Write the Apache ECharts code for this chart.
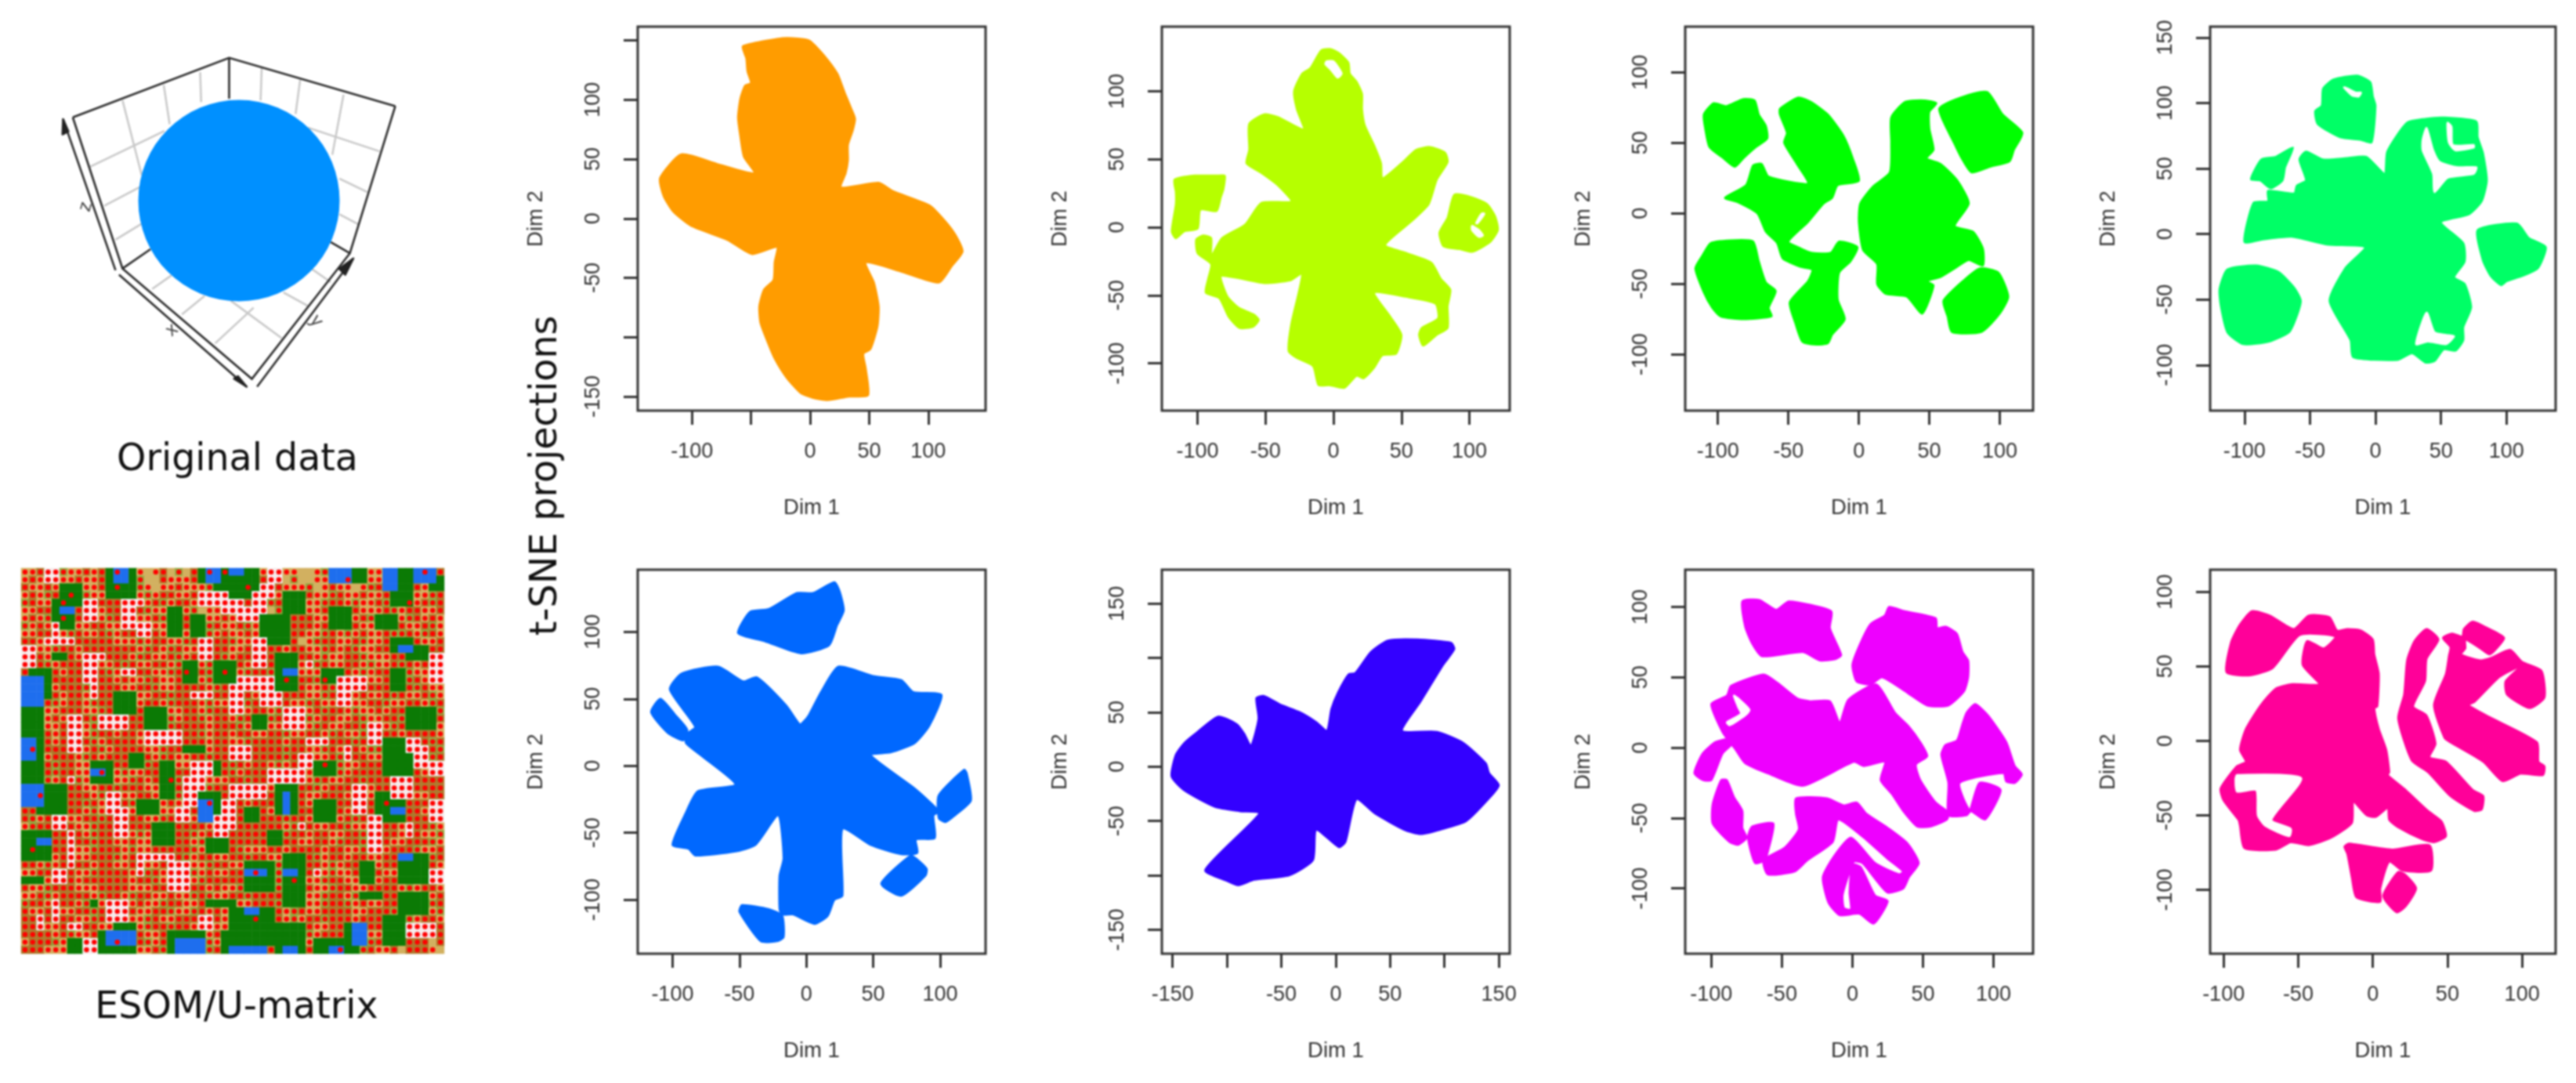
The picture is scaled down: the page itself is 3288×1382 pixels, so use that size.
<!DOCTYPE html>
<html>
<head>
<meta charset="utf-8">
<title>t-SNE projections</title>
<script src="https://cdn.jsdelivr.net/npm/echarts@6/dist/echarts.min.js"></script>
<style>
html, body { margin: 0; padding: 0; background: #fff; }
#main { width: 3288px; height: 1382px; filter: blur(1.3px); }
</style>
</head>
<body>
<div id="main"></div>
<script>
// t-SNE outlines in Dim 1 / Dim 2 units
const orangeShapes = [
  [[-57,145],[-41,149],[-20,152],[-1,150],[12,137],[23,122],[27,112],[30,104],[35,92],[38,84],[36,74],[32,62],[32,49],[30,38],[26,26],[58,30],[70,23],[101,11],[114,-2],[123,-14],[129,-28],[120,-40],[109,-54],[78,-45],[47,-37],[54,-54],[58,-74],[57,-91],[51,-110],[45,-114],[47,-126],[49,-149],[33,-150],[15,-153],[2,-151],[-8,-147],[-20,-134],[-30,-118],[-36,-104],[-42,-88],[-43,-74],[-39,-60],[-31,-52],[-30,-37],[-28,-24],[-49,-30],[-70,-18],[-101,-6],[-116,6],[-124,19],[-127,34],[-109,54],[-79,46],[-47,38],[-56,52],[-59,69],[-61,85],[-59,101],[-55,112],[-50,114],[-53,124],[-54,135]]
];
const limeShapes = [
  [[-9,130],[-2,131],[4,128],[11,121],[12,113],[17,107],[21,98],[21,87],[23,75],[30,60],[35,47],[36,36],[50,47],[61,57],[71,59],[82,55],[84,48],[76,35],[70,17],[58,5],[38,-13],[54,-19],[72,-26],[79,-38],[86,-46],[84,-58],[84,-74],[76,-79],[66,-87],[63,-79],[65,-74],[77,-67],[75,-56],[53,-51],[30,-48],[42,-66],[50,-79],[46,-93],[36,-94],[30,-103],[22,-111],[17,-109],[8,-118],[-3,-116],[-11,-116],[-15,-102],[-27,-96],[-33,-91],[-31,-71],[-23,-34],[-32,-39],[-51,-41],[-72,-37],[-83,-36],[-78,-51],[-70,-59],[-59,-64],[-55,-68],[-59,-73],[-69,-74],[-77,-66],[-84,-52],[-94,-48],[-92,-37],[-90,-27],[-100,-19],[-101,-9],[-96,-6],[-90,-8],[-90,-21],[-82,-8],[-65,2],[-53,18],[-31,19],[-41,31],[-53,40],[-64,47],[-62,57],[-62,76],[-51,83],[-41,81],[-22,72],[-27,87],[-29,100],[-23,113],[-17,117]],
  [[-117,35],[-102,38],[-86,38],[-80,38],[-81,28],[-83,22],[-86,12],[-98,13],[-100,-1],[-110,-3],[-116,-8],[-119,-3],[-116,17],[-116,26]],
  [[89,24],[102,22],[113,17],[119,8],[121,-2],[115,-11],[102,-18],[93,-16],[81,-14],[78,-4],[84,7]]
];
const limeHoles = [
  [[-5,122],[0,122],[6,113],[3,110],[-2,116],[-6,120]],
  [[102,1],[107,-2],[110,-6],[107,-7],[102,-2]],
  [[106,3],[111,10],[109,10],[105,3]]
];
const greenShapes = [
  [[-110,70],[-103,78],[-94,76],[-82,81],[-74,80],[-71,70],[-66,62],[-65,53],[-73,47],[-82,39],[-88,33],[-96,39],[-106,47],[-109,60]],
  [[-56,74],[-43,82],[-34,79],[-22,70],[-11,55],[-4,38],[0,23],[-15,20],[-19,11],[-25,7],[-36,-6],[-50,-20],[-41,-25],[-33,-28],[-20,-28],[-14,-20],[-1,-24],[-6,-34],[-14,-42],[-15,-61],[-10,-75],[-19,-86],[-22,-92],[-30,-93],[-40,-91],[-45,-78],[-49,-63],[-36,-48],[-33,-40],[-41,-38],[-54,-32],[-58,-21],[-66,-13],[-72,0],[-86,8],[-95,11],[-80,20],[-75,34],[-69,35],[-64,26],[-36,21],[-44,35],[-53,50],[-51,57],[-56,70]],
  [[-105,-21],[-87,-19],[-75,-20],[-71,-34],[-66,-49],[-59,-55],[-64,-67],[-62,-73],[-82,-75],[-98,-73],[-104,-67],[-110,-56],[-116,-39],[-111,-30]],
  [[23,68],[33,79],[47,80],[55,78],[50,72],[50,60],[53,45],[48,39],[58,35],[70,23],[78,7],[68,-9],[81,-13],[88,-25],[88,-37],[78,-33],[68,-39],[58,-45],[48,-48],[53,-51],[45,-71],[34,-59],[19,-57],[13,-50],[13,-36],[3,-26],[0,-6],[1,7],[10,19],[22,29],[23,50]],
  [[57,74],[72,82],[91,86],[102,70],[116,57],[110,45],[107,37],[93,33],[80,29],[73,39],[68,49]],
  [[60,-62],[75,-47],[86,-39],[99,-42],[106,-59],[100,-71],[87,-84],[66,-84],[63,-73]]
];
const springShapes = [
  [[-40,111],[-32,118],[-14,121],[-4,116],[-2,105],[0,98],[-3,70],[-11,72],[-27,74],[-44,84],[-46,94],[-41,98]],
  [[-87,57],[-76,59],[-63,66],[-69,51],[-71,41],[-80,35],[-88,41],[-95,42]],
  [[-100,-6],[-93,24],[-82,25],[-82,33],[-62,31],[-60,37],[-53,41],[-58,57],[-53,63],[-40,57],[-22,58],[-7,59],[7,46],[9,63],[24,85],[38,88],[52,89],[77,86],[78,74],[82,62],[85,41],[81,25],[71,15],[50,9],[67,-7],[68,-21],[60,-33],[68,-38],[73,-56],[67,-71],[67,-81],[61,-89],[52,-88],[45,-97],[38,-98],[28,-91],[17,-96],[-17,-94],[-19,-81],[-35,-51],[-23,-26],[-8,-10],[-37,-8],[-64,-2],[-86,-4]],
  [[78,3],[108,8],[117,-3],[130,-10],[124,-26],[112,-32],[100,-36],[96,-39],[88,-32],[82,-20]],
  [[-113,-27],[-91,-24],[-74,-29],[-62,-41],[-57,-51],[-61,-65],[-66,-75],[-81,-82],[-101,-84],[-113,-75],[-118,-55],[-119,-42]]
];
const springHoles = [
  [[-24,112],[-21,111],[-15,108],[-11,108],[-13,105],[-18,106]],
  [[39,81],[44,64],[49,55],[63,51],[77,51],[75,46],[55,43],[45,32],[44,46],[36,64],[36,72]],
  [[55,85],[58,82],[59,68],[75,68],[75,66],[61,64],[56,70]],
  [[39,-60],[45,-75],[54,-77],[60,-78],[54,-84],[40,-82],[31,-84]]
];
const blueShapes = [
  [[-51,99],[-42,115],[-28,117],[-7,129],[5,129],[21,137],[25,130],[28,116],[23,105],[17,90],[-4,84],[-31,93]],
  [[-102,57],[-93,69],[-66,74],[-47,63],[-37,66],[-15,45],[-5,31],[-2,33],[2,38],[11,55],[24,74],[50,67],[71,64],[80,55],[101,53],[92,30],[81,17],[63,10],[48,8],[81,-17],[99,-34],[95,-37],[96,-54],[82,-55],[83,-65],[71,-66],[48,-59],[27,-47],[27,-97],[21,-100],[16,-112],[6,-118],[-10,-111],[-18,-111],[-20,-107],[-20,-82],[-17,-69],[-21,-37],[-38,-59],[-53,-64],[-83,-67],[-88,-62],[-100,-59],[-90,-35],[-81,-19],[-53,-14],[-79,8],[-90,17],[-89,24],[-83,29]],
  [[-116,40],[-109,50],[-98,38],[-89,27],[-92,19],[-104,25]],
  [[-50,-109],[-48,-104],[-28,-107],[-18,-112],[-17,-128],[-22,-131],[-34,-131]],
  [[99,-22],[118,-3],[120,-6],[123,-26],[111,-37],[104,-42],[99,-39]],
  [[56,-88],[78,-67],[83,-70],[90,-77],[89,-82],[71,-97]]
];
const indigoShapes = [
  [[-151,-9],[-147,11],[-139,22],[-127,32],[-108,46],[-91,39],[-84,30],[-78,19],[-71,44],[-73,63],[-66,65],[-51,57],[-33,50],[-18,41],[-8,33],[-4,53],[2,68],[12,85],[18,86],[32,105],[48,116],[75,117],[106,114],[109,108],[99,94],[78,60],[61,33],[93,32],[117,22],[138,3],[141,-6],[150,-17],[141,-29],[120,-50],[96,-58],[78,-62],[63,-58],[36,-43],[19,-30],[9,-69],[3,-74],[-18,-58],[-21,-86],[-43,-100],[-75,-104],[-90,-109],[-100,-105],[-120,-95],[-70,-43],[-88,-41],[-111,-37],[-139,-22]]
];
const magentaShapes = [
  [[-78,104],[-66,105],[-54,98],[-45,104],[-15,97],[-16,85],[-8,66],[-12,63],[-23,62],[-35,68],[-64,65],[-71,74],[-76,86]],
  [[26,100],[37,97],[59,92],[60,85],[66,86],[74,81],[78,68],[82,62],[82,50],[79,40],[68,30],[53,30],[39,39],[21,50],[13,45],[3,47],[0,59],[6,75],[13,88],[23,94]],
  [[-63,52],[-53,46],[-39,35],[-30,33],[-16,33],[-9,18],[-3,34],[17,45],[30,25],[40,15],[48,4],[53,-6],[45,-12],[48,-23],[59,-39],[68,-46],[67,-51],[55,-56],[46,-56],[36,-45],[28,-33],[20,-23],[23,-10],[8,-13],[1,-10],[-35,-27],[-58,-19],[-76,-11],[-83,-1],[-92,11],[-100,31],[-89,37],[-86,44]],
  [[-112,-18],[-106,-4],[-97,4],[-89,6],[-84,4],[-92,-4],[-100,-23],[-106,-23]],
  [[81,25],[87,31],[96,23],[109,4],[115,-13],[120,-19],[115,-25],[109,-24],[107,-18],[76,-25],[83,-44],[90,-25],[105,-30],[94,-51],[84,-45],[81,-48],[68,-48],[68,-25],[63,-5],[66,2],[74,5],[78,17]],
  [[-93,-23],[-89,-23],[-84,-35],[-78,-45],[-78,-57],[-75,-64],[-81,-69],[-87,-67],[-99,-54],[-99,-40]],
  [[-74,-64],[-71,-56],[-56,-54],[-61,-78],[-62,-80],[-69,-82]],
  [[-40,-36],[-18,-36],[-6,-41],[3,-39],[10,-47],[25,-57],[39,-68],[47,-82],[40,-92],[36,-100],[25,-103],[16,-93],[7,-82],[1,-81],[-3,-91],[-7,-105],[-6,-114],[-1,-115],[-2,-103],[0,-83],[6,-85],[16,-105],[25,-109],[15,-125],[5,-118],[-9,-119],[-17,-110],[-21,-92],[-13,-77],[-1,-64],[16,-82],[33,-90],[36,-88],[25,-79],[7,-63],[-10,-51],[-14,-67],[-32,-80],[-41,-88],[-60,-90],[-63,-80],[-48,-71],[-38,-58],[-40,-47]]
];
const magentaHoles = [
  [[-84,37],[-81,35],[-73,27],[-76,23],[-87,16],[-89,18],[-79,24],[-81,29]]
];
const pinkShapes = [
  [[-98,46],[-95,66],[-89,78],[-81,87],[-69,84],[-53,75],[-43,84],[-29,83],[-24,74],[-17,75],[-8,74],[0,68],[1,58],[4,45],[3,23],[1,22],[4,8],[9,-6],[11,-21],[10,-23],[22,-33],[37,-47],[46,-54],[49,-64],[41,-68],[33,-66],[17,-58],[11,-53],[10,-45],[2,-51],[-4,-50],[-13,-41],[-14,-55],[-28,-65],[-43,-70],[-55,-68],[-65,-73],[-86,-72],[-89,-57],[-90,-53],[-100,-40],[-102,-32],[-91,-17],[-85,-14],[-89,-6],[-85,8],[-75,24],[-65,35],[-54,38],[-36,38],[-47,51],[-44,67],[-33,62],[-25,70],[-49,71],[-67,49],[-82,44]],
  [[36,75],[44,68],[36,55],[35,40],[27,23],[36,17],[42,-2],[38,-11],[49,-14],[67,-33],[74,-37],[73,-46],[68,-47],[52,-37],[37,-21],[26,-13],[17,15],[21,31],[23,54],[28,67]],
  [[47,69],[53,72],[60,70],[61,75],[67,80],[78,75],[88,69],[82,61],[78,58],[72,62],[62,68],[62,62],[59,58],[72,54],[80,56],[92,61],[100,53],[113,47],[115,29],[105,22],[90,31],[89,40],[99,50],[85,43],[68,26],[64,24],[78,16],[110,-1],[111,-14],[115,-17],[114,-23],[99,-22],[87,-27],[74,-14],[52,-1],[48,2],[41,24],[49,45],[51,57],[52,63]],
  [[-19,-71],[-16,-69],[13,-73],[38,-70],[39,-87],[20,-87],[11,-81],[5,-99],[5,-108],[-11,-105],[-14,-92],[-17,-76]],
  [[17,-88],[22,-90],[29,-99],[22,-111],[16,-115],[7,-104]]
];
const pinkHoles = [
  [[-91,-23],[-48,-25],[-68,-53],[-55,-59],[-56,-64],[-72,-57],[-77,-50],[-78,-33],[-91,-34],[-92,-26]]
];

const dotColor = ["#FF9C00", "#B6FF00", "#00FF00", "#00FF66", "#0068FF", "#3300FF", "#EE00FF", "#FF0099"];
const allShapes = [orangeShapes, limeShapes, greenShapes, springShapes, blueShapes, indigoShapes, magentaShapes, pinkShapes];
const allHoles = [[], limeHoles, [], springHoles, [], [], magentaHoles, pinkHoles];

// axis ranges and ticks of each panel
const xRanges = [[-145.9,148.5],[-126.3,129.7],[-123.2,123.6],[-126.2,137.5],[-126,134],[-159.9,160],[-118.5,128],[-109,122.5]];
const yRanges = [[-161.9,161.6],[-134.75,147.5],[-139.8,132.3],[-134.8,158.4],[-140.3,146.4],[-172,181.1],[-146.4,126.5],[-142.8,114.8]];
const ticks100 = [-100,-50,0,50,100];
const ticks150 = [-150,-100,-50,0,50,100,150];
const xTicks = [ticks100, ticks100, ticks100, ticks100, ticks100, ticks150, ticks100, ticks100];
const yTicks = [ticks150, ticks100, ticks100, [-100,-50,0,50,100,150], ticks100, ticks150, ticks100, ticks100];
// R drops the labels that would collide
const xLabels = [[-100,0,50,100], ticks100, ticks100, ticks100, ticks100, [-150,-50,0,50,150], ticks100, ticks100];
const yLabels = [[-150,-50,0,50,100], ticks100, ticks100, [-100,-50,0,50,100,150], ticks100, [-150,-50,0,50,150], ticks100, ticks100];

const panelLeft = [814, 1483, 2151, 2821, 814, 1483, 2151, 2821];
const panelRight = [1258, 1927, 2595, 3262, 1258, 1927, 2595, 3262];
const panelTop = [34, 34, 34, 34, 727, 727, 727, 727];
const panelHeight = 490;

// 3D box of the original data, sphere radius = 1 unit
const boxDark = [
  [[-1.657,0.83],[-0.098,1.423],[1.559,0.942]],
  [[-0.098,1.423],[-0.098,1.016]],
  [[-1.657,0.83],[-1.161,-0.677],[0.129,-1.778],[1.106,-0.525],[1.559,0.942]],
  [[-1.161,-0.677],[-0.882,-0.484]],
  [[1.106,-0.525],[0.914,-0.413]],
  [[-1.196,-0.738],[0.077,-1.856]],
  [[0.181,-1.856],[1.141,-0.576]],
  [[-1.231,-0.694],[-1.754,0.813]]
];
const boxGrey = [
  [[-1.161,0.999],[-0.97,0.254]], [[-0.75,1.152],[-0.691,0.762]], [[-0.387,1.28],[-0.377,0.982]],
  [[0.227,1.321],[0.216,0.999]], [[0.61,1.203],[0.565,0.864]], [[1.043,1.057],[0.931,0.457]],
  [[-1.482,0.339],[-0.743,0.694]], [[-1.343,-0.051],[-0.987,0.136]], [[-1.231,-0.39],[-0.952,-0.22]],
  [[0.687,0.728],[1.402,0.491]], [[1.001,0.22],[1.28,0.085]], [[1.001,-0.136],[1.193,-0.237]],
  [[-0.865,-0.881],[-0.673,-0.745]], [[-0.569,-1.135],[-0.342,-0.949]], [[-0.237,-1.423],[0.146,-1.067]],
  [[-0.08,-0.999],[0.426,-1.372]], [[0.443,-0.915],[0.687,-1.05]], [[0.722,-0.678],[0.914,-0.813]]
];
const boxArrows = [
  [[-1.754,0.813],[-1.76,0.66],[-1.7,0.69]],
  [[0.077,-1.856],[-0.05,-1.775],[-0.01,-1.75]],
  [[1.141,-0.576],[1.0,-0.68],[1.06,-0.74]]
];
const boxLabels = [["z",-1.53,-0.06,1.3],["x",-0.67,-1.29,0.7],["y",0.77,-1.2,-0.9]];
const sphereCentre = [[0,0]];

// ESOM map: t tan, o brown, l olive; upper case = no best-match dot there
const esomRows = [
  "ttott lttot ottlt tTtoT lTott ttltt ottlt tTTtl ttlTt ttolt ttlto",
  "tottl ttott ottTt lTTot ttoto tltot tottT lTTtt otTlt ttolt tltot",
  "ottot tlott otott ltTtt otttl totlo tttot ttlTt ottTt lotTt totlt",
  "totlo ttolt toott tltoo ttott lotto totto tTott lotto ttolt ottlo",
  "lotto ltoot oooto ttolt ootto tolto ttloo tottl ootlt tolto ttolo",
  "ttoot ltooo tooot oltto otlTt ttoto ooTlt ootto tTlot ttolt ootto",
  "totlo ttoot tlooo ttolt ootlt totlo tltoo ooott lotto ltott lotot",
  "ltott ootto ottoo oottl tootl ottol tltoo oooto ttlot tolto ttolt",
  "ttoot tlott oltoo oootl ottol totto tlooo oottl otlto ttoll otlot",
  "ootto ltooo oottt ltoot tlott ooltt oooto oTtlo ottol ttoot lotto",
  "oottl ootoo ooooo tlotl ottol ootto looot oottl otolt tooot lttoo",
  "tootl ootoo oooot lotto ltoto oltoo ooolt oootl ttool tttoo lotoo",
  "otolt oooto ttolo ttoot lootl tooot otolo ttolo ttoot lttol otoot",
  "otooo toooo oltoo oottl ooool tootl ooloo otttl oootl tooto lttoo",
  "ttooo oootl ootot tlott oootl ootto ooltt ooolt ootto ttoot lotto",
  "toott ooolt ooott ooltt oooot lootl ootto ootto lottl ooott olott",
  "ootlo tootl ooltt ttool ootto oolto ttooo oottl ootto ttolo ttolt",
  "ttool tootl ootll tootl oootl ttool oooto ttlot tlott ooltt ootlo",
  "ltott ooott loott ootlt tootl oooot ootlo ottol ootlt totoo lttol",
  "ootto ttool ootto oottl toolt ootlo ttlot tolto ottol ttool ottlo",
  "toott oootl ootoo oottl oooot ooolt oottl ootlo ttool ootlo ttolt",
  "ltoot oottl ootoo ttooo ooolt ootoo ttool ttoot lottl oooot oooot",
  "tooot ooool toooo tltoo oooot oottl oooot ooltt ooolo tooot toolo",
  "ottoo oooto ltooo ottlo oooot ootoo ooool oottl otoot lltoo otool",
  "lotto ootlo tooot ootlo ttool oooto ooool ooltt olloo ttool ottlo",
  "ttool ootto ltoot tloot ttoot oolot ootlt ooltl lltto ooltt oooto",
  "ottol oottl ootlt toott oolto oolto oottl ootll lltoo oottl ootlo",
  "toolt oolto oottl otoot ltoot ttool oottl ottlo ttool oooot ooooo",
  "oottl ooott ooloo ottlo otool ootto ootlt ooolt ooool toooo ooooo",
  "lttoo tooot loott ootlo ltoot oolot toott lotto oottl toooo ottoo",
  "ootlt toolo ttool ootto ttoot ltoot ooool ootlt toool oooto ooolt",
  "oottl oootl tooot loott ltoot oooot oottl ooolt oottl ootoo oottl",
  "oltoo ottoo lotto ottlo ootto oooot ooool ootlo ttolo oooot oooto",
  "tloot oottl ootto oooto oooot oltoo oooot ltott ooltt oooot ooolt",
  "ottlo oootl ooott ltoot oolto ooooo ooool ootoo ttool tooot oottl",
  "tloto ooool ootto ttolt ootlo ooooo ootlo ottoo tlool ooott ooolt",
  "ottlo oottl oootl ttooo oolto ooolt ttoot oooot oottl ootoo oltto",
  "tooot ootto oolto ootoo oltoo ttool oottl ooolt ootoo ttool ottlo",
  "ootlt oooot ootto ottol oottl ootto ooolt oooot ltool ttoot ltoot",
  "ttoot oottl oooot olott oolto ttool toolt oooot lttoo oottl toolt",
  "lotto ootoo oooot ooltt ootlo oooot toolt oottl ootto ltool tooot",
  "ottlo oottt oooot ttool tooot ottlo ooolt ooott loott oooot ltoot",
  "ttolt oooot lootl ootto ttlol ttool oooot oottl ootlo ttool ootto",
  "loott ootlo ttolt ottlo ottol ltott ooolt oottl oolto ttool ottlo",
  "ottol ttool ootto ttool ttlot ottol ttoot lotto ooott ooolt oottl",
  "oooot oottl ootot tlott oootl ottlo ootot ltool oooto ootto ltoot",
  "ooott oltoo tttoo tlool ootto ttool oottl ooott oolot ooott lttoo",
  "oooot oltto ottlo ottol tooot oltoo ottol oolto ootlo ttool ottoo",
  "toool ttoot ltott oltoo ttool ttoot ottlo ottol toott lotoo oooTo",
  "ooott ttolt ootto ttolt ooTtl oottl ttolo ttoot lottl ottoT oootT"
];
// patches on that map: [first col, last col, first row, last row]
const esomGreen = [
  [11,14,0,3],[25,30,0,3],[23,24,0,1],[40,44,0,1],[48,50,0,4],[53,54,1,2],[5,7,2,4],[4,6,4,7],[34,36,3,5],[19,20,5,8],
  [22,23,6,8],[31,34,6,9],[40,42,5,7],[46,48,6,7],[48,50,9,10],[50,52,10,11],[4,5,11,11],[21,22,12,14],[25,27,12,14],
  [33,35,11,15],[39,41,13,14],[48,49,13,15],[1,3,13,16],[12,14,16,18],[0,2,17,20],[16,18,18,21],[30,31,19,20],[50,53,18,20],
  [0,2,21,28],[21,23,23,23],[47,50,22,26],[14,15,24,25],[9,11,25,27],[18,19,25,29],[25,25,25,26],[38,40,25,26],[2,5,28,31],
  [33,35,28,31],[23,25,29,32],[29,30,31,32],[38,40,30,32],[46,49,29,32],[15,17,30,31],[17,19,33,35],[0,3,34,37],[32,33,34,35],
  [24,26,35,36],[29,32,38,41],[34,36,37,43],[44,45,38,40],[49,52,37,40],[0,2,40,40],[44,46,42,42],[27,32,44,48],[24,27,43,43],
  [49,52,42,44],[47,49,45,48],[42,44,46,48],[12,14,46,46],[10,14,47,49],[6,7,48,49],[19,23,47,49],[26,28,47,49],[33,36,46,49],
  [38,43,48,49],[9,9,43,43]
];
const esomBlue = [
  [12,13,0,1],[24,25,0,1],[27,28,0,0],[40,42,0,1],[47,48,0,2],[51,53,0,1],[5,6,5,5],[49,50,10,10],[0,2,14,17],[0,1,22,24],
  [9,10,26,26],[0,2,28,30],[34,35,13,13],[34,34,29,31],[23,24,30,32],[48,49,31,31],[2,3,35,35],[49,50,37,37],[29,31,39,39],
  [34,35,39,39],[29,30,44,44],[11,14,47,48],[20,23,48,49],[27,31,49,49],[34,35,49,49],[43,44,46,48],[40,41,49,49]
];
const esomWhite = [
  [3,4,0,1],[32,33,0,1],[23,26,3,4],[26,28,4,5],[28,30,5,6],[30,31,3,5],[31,32,2,3],[8,9,4,6],[13,14,4,7],[14,15,4,4],
  [15,16,7,8],[4,4,7,9],[3,6,9,9],[0,1,10,12],[8,9,11,14],[9,10,11,11],[9,9,15,16],[13,14,13,13],[23,24,9,11],[30,31,9,12],
  [28,32,14,15],[27,28,15,18],[31,33,16,17],[34,36,18,20],[41,44,14,15],[41,42,16,17],[22,24,16,16],[37,37,12,12],[53,54,11,14],
  [6,7,19,23],[10,13,19,20],[16,20,21,22],[45,46,20,22],[37,39,22,22],[27,29,23,24],[42,42,23,24],[50,51,22,23],[51,52,23,25],[53,54,25,26],[36,37,24,25],
  [32,36,26,27],[22,24,25,26],[21,23,27,28],[27,31,28,29],[21,22,29,30],[20,21,31,32],[26,27,30,33],[25,26,32,34],[43,44,28,31],[45,46,32,36],[48,50,27,29],
  [53,54,30,32],[11,12,29,31],[12,13,31,34],[36,36,33,33],[4,5,32,33],[6,6,34,38],[4,5,39,40],[6,6,27,27],[50,50,33,34],[15,19,37,37],
  [15,15,37,39],[19,21,38,41],[38,38,39,39],[53,54,39,40],[11,13,43,45],[4,4,43,45],[23,24,45,46],[6,7,46,46],[2,2,45,46],
  [50,53,46,47],[8,9,48,49]
];
// dots that do sit on green or blue ground
const esomExtraDots = [
  [12,0],[12,2],[6,3],[5,4],[5,6],[24,0],[26,0],[29,2],[42,1],[50,4],[52,0],[21,13],[26,13],[34,14],[39,14],[47,16],[1,23],
  [10,26],[19,27],[39,25],[2,29],[47,30],[34,32],[24,30],[1,36],[30,39],[35,40],[30,45],[12,48],[46,46],[41,49]
];
const esomColors = ["#D2B060", "#AC7A2C", "#8FAA40", "#0B7A05", "#1E6EEE", "#F6EEEE"];

const chartFont = "Liberation Sans";
const headingFont = "DejaVu Sans";
const inkColor = "#333333";

function buildEsom() {
  const cells = [], dots = [], onPatch = {};
  const classOf = { t: 0, o: 1, l: 2 };
  const mark = function (patches, cls) {
    patches.forEach(function (p) {
      for (let c = p[0]; c <= p[1]; c++) {
        for (let r = p[2]; r <= p[3]; r++) onPatch[c + "_" + r] = cls;
      }
    });
  };
  mark(esomGreen, 3);
  mark(esomBlue, 4);
  mark(esomWhite, 5);
  esomRows.forEach(function (row, r) {
    const chars = row.replace(/ /g, "");
    for (let c = 0; c < 55; c++) {
      const ch = chars[c] || "t";
      const patch = onPatch[c + "_" + r];
      const cls = patch !== undefined ? patch : classOf[ch.toLowerCase()];
      cells.push([c, r, cls]);
      const bare = ch !== ch.toLowerCase();
      if (cls === 5 || (patch === undefined && !bare)) dots.push([c, r]);
    }
  });
  esomExtraDots.forEach(function (d) { dots.push(d); });
  return { cells: cells, dots: dots };
}

function polygonItem(outlines, fill, stroke, smooth) {
  return function (params, api) {
    const points = outlines[params.dataIndex].map(function (p) { return api.coord(p); });
    return {
      type: "polygon",
      shape: { points: points, smooth: smooth },
      style: { fill: fill, stroke: stroke, lineWidth: 2.5, lineJoin: "round" }
    };
  };
}

function lineItem(lines, color, width) {
  return function (params, api) {
    const points = lines[params.dataIndex].map(function (p) { return api.coord(p); });
    return { type: "polyline", shape: { points: points }, style: { stroke: color, lineWidth: width, fill: null } };
  };
}

const grid = [], xAxis = [], yAxis = [], series = [];

xRanges.forEach(function (xr, i) {
  grid.push({
    left: panelLeft[i], top: panelTop[i], width: panelRight[i] - panelLeft[i], height: panelHeight,
    show: true, backgroundColor: "#fff", borderColor: inkColor, borderWidth: 3
  });
  xAxis.push({
    gridIndex: i, type: "value", min: xr[0], max: xr[1], position: "bottom",
    name: "Dim 1", nameLocation: "middle", nameGap: 110,
    nameTextStyle: { fontFamily: chartFont, fontSize: 27.5, color: inkColor },
    splitLine: { show: false },
    axisLine: { show: false, onZero: false },
    axisTick: { show: true, length: 18, customValues: xTicks[i], lineStyle: { color: inkColor, width: 3 } },
    axisLabel: { customValues: xLabels[i], margin: 39, fontFamily: chartFont, fontSize: 27, color: inkColor, hideOverlap: false }
  });
  yAxis.push({
    gridIndex: i, type: "value", min: yRanges[i][0], max: yRanges[i][1], position: "left",
    name: "Dim 2", nameLocation: "middle", nameGap: 116, nameRotate: 90,
    nameTextStyle: { fontFamily: chartFont, fontSize: 27.5, color: inkColor },
    splitLine: { show: false },
    axisLine: { show: false, onZero: false },
    axisTick: { show: true, length: 18, customValues: yTicks[i], lineStyle: { color: inkColor, width: 3 } },
    axisLabel: { customValues: yLabels[i], rotate: 90, margin: 43, fontFamily: chartFont, fontSize: 27, color: inkColor, hideOverlap: false }
  });
  series.push({
    type: "custom", xAxisIndex: i, yAxisIndex: i, silent: true,
    data: allShapes[i].map(function (s, k) { return [k]; }),
    renderItem: polygonItem(allShapes[i], dotColor[i], dotColor[i], 0.2)
  });
  if (allHoles[i].length) {
    series.push({
      type: "custom", xAxisIndex: i, yAxisIndex: i, silent: true, z: 3,
      data: allHoles[i].map(function (s, k) { return [k]; }),
      renderItem: polygonItem(allHoles[i], "#fff", "#fff", 0.2)
    });
  }
});

// panel 8: the 3D box and sphere, hidden axes
grid.push({ left: 49, top: 0, width: 512, height: 512 });
xAxis.push({ gridIndex: 8, type: "value", min: -2, max: 2, show: false });
yAxis.push({ gridIndex: 8, type: "value", min: -2, max: 2, show: false });
series.push(
  {
    type: "custom", xAxisIndex: 8, yAxisIndex: 8, silent: true, z: 1,
    data: boxGrey.map(function (s, k) { return [k]; }),
    renderItem: lineItem(boxGrey, "#C8C8C8", 2.5)
  },
  {
    type: "custom", xAxisIndex: 8, yAxisIndex: 8, silent: true, z: 1,
    data: boxDark.map(function (s, k) { return [k]; }),
    renderItem: lineItem(boxDark, "#2A2A2A", 2.6)
  },
  {
    type: "custom", xAxisIndex: 8, yAxisIndex: 8, silent: true, z: 1,
    data: boxArrows.map(function (s, k) { return [k]; }),
    renderItem: polygonItem(boxArrows, "#222", "#222", 0)
  },
  {
    type: "scatter", xAxisIndex: 8, yAxisIndex: 8, silent: true, z: 2,
    data: sphereCentre, symbolSize: 257,
    itemStyle: { color: "#0090FF", opacity: 1 }
  },
  {
    type: "custom", xAxisIndex: 8, yAxisIndex: 8, silent: true, z: 3,
    data: boxLabels.map(function (s, k) { return [k]; }),
    renderItem: function (params, api) {
      const b = boxLabels[params.dataIndex];
      const c = api.coord([b[1], b[2]]);
      return {
        type: "text", x: c[0], y: c[1], rotation: b[3],
        style: { text: b[0], fontFamily: chartFont, fontSize: 24, fill: "#444", align: "center", verticalAlign: "middle" }
      };
    }
  }
);

// panel 9: ESOM / U-matrix
const esom = buildEsom();
const colNames = [], rowNames = [];
for (let c = 0; c < 55; c++) colNames.push(c);
for (let r = 0; r < 50; r++) rowNames.push(r);
grid.push({ left: 27, top: 725, width: 540, height: 492 });
xAxis.push({ gridIndex: 9, type: "category", data: colNames, show: false });
yAxis.push({ gridIndex: 9, type: "category", data: rowNames, inverse: true, show: false });
series.push(
  { type: "heatmap", xAxisIndex: 9, yAxisIndex: 9, silent: true, data: esom.cells, id: "esomCells" },
  {
    type: "scatter", xAxisIndex: 9, yAxisIndex: 9, silent: true, z: 4,
    data: esom.dots, symbolSize: 6.5, itemStyle: { color: "#FF0000", opacity: 1 }
  }
);

const option = {
  animation: false,
  backgroundColor: "#fff",
  grid: grid, xAxis: xAxis, yAxis: yAxis, series: series,
  visualMap: {
    type: "piecewise", show: false, dimension: 2,
    seriesIndex: series.findIndex(function (s) { return s.id === "esomCells"; }),
    pieces: esomColors.map(function (col, k) { return { value: k, color: col }; })
  },
  graphic: [
    { type: "text", x: 303, y: 588, style: { text: "Original data", fontFamily: headingFont, fontSize: 47.5, fill: "#111", align: "center", verticalAlign: "middle" } },
    { type: "text", x: 302, y: 1287, style: { text: "ESOM/U-matrix", fontFamily: headingFont, fontSize: 47.5, fill: "#111", align: "center", verticalAlign: "middle" } },
    { type: "text", x: 698, y: 607, rotation: Math.PI / 2, style: { text: "t-SNE projections", fontFamily: headingFont, fontSize: 47.5, fill: "#111", align: "center", verticalAlign: "middle" } }
  ]
};

const myChart = echarts.init(document.getElementById("main"), null, { renderer: "canvas" });
myChart.setOption(option);
</script>
</body>
</html>
